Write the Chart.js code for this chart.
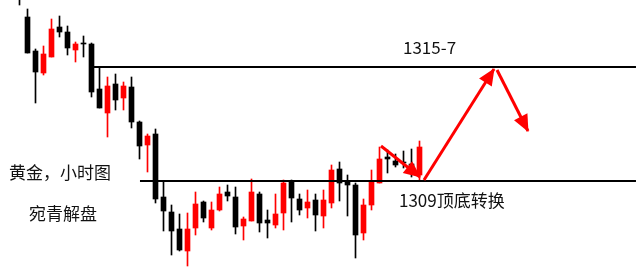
<!DOCTYPE html>
<html>
<head>
<meta charset="utf-8">
<script src="https://cdn.jsdelivr.net/npm/chart.js@4"></script>
<style>
  html, body { margin: 0; padding: 0; background: #fff; }
  #wrap { width: 636px; height: 275px; }
</style>
</head>
<body>
<div id="wrap"><canvas id="c" width="636" height="275"></canvas></div>
<script>
// ---- data ----
const candleIndex = [0,1,2,3,4,5,6,7,8,9,10,11,12,13,14,15,16,17,18,19,20,21,22,23,24,25,26,27,28,29,30,31,32,33,34,35,36,37,38,39,40,41,42,43,44,45,46,47,48,49,50];
const opens  = [1318.80,1317.20,1315.50,1314.40,1315.20,1316.70,1316.45,1315.55,1315.90,1315.85,1313.60,1312.40,1313.85,1313.15,1313.70,1311.95,1310.80,1311.35,1308.20,1307.45,1306.60,1305.50,1306.65,1307.95,1306.65,1307.55,1308.45,1308.20,1306.75,1307.00,1308.35,1307.05,1306.80,1307.40,1309.00,1308.10,1307.65,1308.05,1307.25,1307.90,1309.60,1309.00,1308.80,1306.40,1307.80,1308.90,1310.20,1310.00,1309.95,1309.85,1309.30];
const closes = [1318.20,1315.40,1314.45,1315.35,1316.60,1316.45,1315.65,1315.85,1315.85,1313.45,1312.65,1313.75,1313.05,1313.75,1311.95,1310.75,1311.25,1308.10,1307.50,1306.50,1305.55,1306.60,1307.85,1307.15,1307.55,1308.35,1308.25,1306.70,1307.10,1308.45,1306.90,1306.90,1307.35,1308.90,1308.15,1307.55,1307.95,1307.30,1308.05,1309.55,1308.90,1308.80,1306.30,1307.80,1309.00,1310.10,1310.10,1309.80,1309.90,1309.70,1310.70];
const highs  = [1319.05,1317.60,1315.60,1315.75,1317.10,1317.25,1316.75,1315.95,1316.25,1315.90,1314.70,1314.20,1314.35,1313.95,1314.20,1312.00,1311.35,1311.60,1308.95,1307.80,1307.35,1307.40,1308.45,1308.00,1307.95,1308.70,1308.80,1308.70,1307.20,1309.10,1308.45,1307.55,1308.35,1309.05,1309.05,1308.35,1308.55,1308.35,1308.55,1309.80,1309.95,1309.30,1308.90,1308.10,1309.55,1310.70,1310.55,1310.35,1310.50,1310.60,1311.00];
const lows   = [1317.80,1315.40,1312.90,1314.30,1315.20,1316.20,1315.30,1314.95,1315.20,1313.20,1312.65,1311.20,1312.55,1312.55,1311.65,1310.10,1309.45,1307.90,1306.50,1305.30,1305.50,1304.75,1306.30,1306.95,1306.55,1307.50,1308.00,1306.35,1306.05,1307.00,1306.45,1306.15,1306.65,1306.55,1306.95,1307.30,1307.15,1306.50,1306.65,1307.65,1308.00,1307.25,1305.15,1306.05,1307.55,1308.90,1309.40,1309.70,1309.65,1309.20,1309.05];

// horizontal levels: [startIndex, endIndex, price]
const resistanceLine = [9.31, 77.06, 1314.70];
const supportLine    = [15.06, 77.06, 1309.00];

// arrows: [[x0, y0], [x1, y1]] (x = bar index, y = price), last point is the tip
const arrowSmall = [[45.19, 1310.75], [50.06, 1309.20]];
const arrowUp    = [[50.56, 1309.05], [59.31, 1314.60]];
const arrowDown  = [[59.69, 1314.55], [63.56, 1311.50]];

const annotationTexts = ['1315-7', '黄金，小时图', '宛青解盘', '1309顶底转换'];

// ---- chart ----
const UP = '#ff0000', DOWN = '#000000';
const colorOf = i => closes[i] >= opens[i] ? UP : DOWN;

const bodies = candleIndex.map(i => ({ x: i, y: [opens[i], closes[i]] }));
const wicks  = candleIndex.map(i => ({ x: i, y: [lows[i], highs[i]] }));
const lineData = l => [{ x: l[0], y: l[2] }, { x: l[1], y: l[2] }];
const arrowData = a => a.map(p => ({ x: p[0], y: p[1] }));

const arrowHeads = {
  id: 'arrowHeads',
  afterDatasetsDraw(chart) {
    const ctx = chart.ctx;
    chart.data.datasets.forEach((ds, di) => {
      if (!ds.isArrow) return;
      const pts = chart.getDatasetMeta(di).data;
      const a = pts[pts.length - 2], b = pts[pts.length - 1];
      const ang = Math.atan2(b.y - a.y, b.x - a.x);
      const L = 16, W = 7.5;
      const bx = b.x - L * Math.cos(ang), by = b.y - L * Math.sin(ang);
      ctx.save();
      ctx.fillStyle = ds.borderColor;
      ctx.beginPath();
      ctx.moveTo(b.x + Math.cos(ang), b.y + Math.sin(ang));
      ctx.lineTo(bx + W * Math.sin(ang), by - W * Math.cos(ang));
      ctx.lineTo(bx - W * Math.sin(ang), by + W * Math.cos(ang));
      ctx.closePath();
      ctx.fill();
      ctx.restore();
    });
  }
};

const textLabels = {
  id: 'textLabels',
  afterDraw(chart) {
    const ctx = chart.ctx;
    const pos = [[403, 48], [9, 173], [29, 214], [399, 201]];
    ctx.save();
    ctx.font = '17px "Noto Sans CJK SC", "Noto Sans", sans-serif';
    ctx.fillStyle = '#111';
    ctx.textAlign = 'left';
    ctx.textBaseline = 'middle';
    annotationTexts.forEach((t, i) => ctx.fillText(t, pos[i][0], pos[i][1]));
    ctx.restore();
  }
};

const whiteBg = {
  id: 'whiteBg',
  beforeDraw(chart) {
    const ctx = chart.ctx;
    ctx.save();
    ctx.fillStyle = '#fff';
    ctx.fillRect(0, 0, chart.width, chart.height);
    ctx.restore();
  }
};

new Chart(document.getElementById('c'), {
  type: 'bar',
  data: {
    datasets: [
      { label: 'body', data: bodies, barThickness: 5, grouped: false, order: 1,
        backgroundColor: c => colorOf(c.dataIndex) },
      { label: 'wick', data: wicks, barThickness: 1, grouped: false, order: 2,
        backgroundColor: c => colorOf(c.dataIndex) },
      { type: 'line', label: '1315-7', data: lineData(resistanceLine), borderColor: '#000', borderWidth: 2, pointRadius: 0, order: 0 },
      { type: 'line', label: '1309', data: lineData(supportLine), borderColor: '#000', borderWidth: 2, pointRadius: 0, order: 0 },
      { type: 'line', label: 'a1', data: arrowData(arrowSmall), borderColor: '#ff0000', borderWidth: 3, pointRadius: 0, isArrow: true, order: -1 },
      { type: 'line', label: 'a2', data: arrowData(arrowUp), borderColor: '#ff0000', borderWidth: 3, pointRadius: 0, isArrow: true, order: -1 },
      { type: 'line', label: 'a3', data: arrowData(arrowDown), borderColor: '#ff0000', borderWidth: 3, pointRadius: 0, isArrow: true, order: -1 }
    ]
  },
  options: {
    responsive: false,
    animation: false,
    devicePixelRatio: 1,
    layout: { padding: 0 },
    plugins: { legend: { display: false }, tooltip: { enabled: false } },
    scales: {
      x: { type: 'linear', min: -2.4375, max: 77.0625, offset: false, display: false },
      y: { type: 'linear', min: 1304.30, max: 1318.05, display: false }
    }
  },
  plugins: [whiteBg, arrowHeads, textLabels]
});
</script>
</body>
</html>
